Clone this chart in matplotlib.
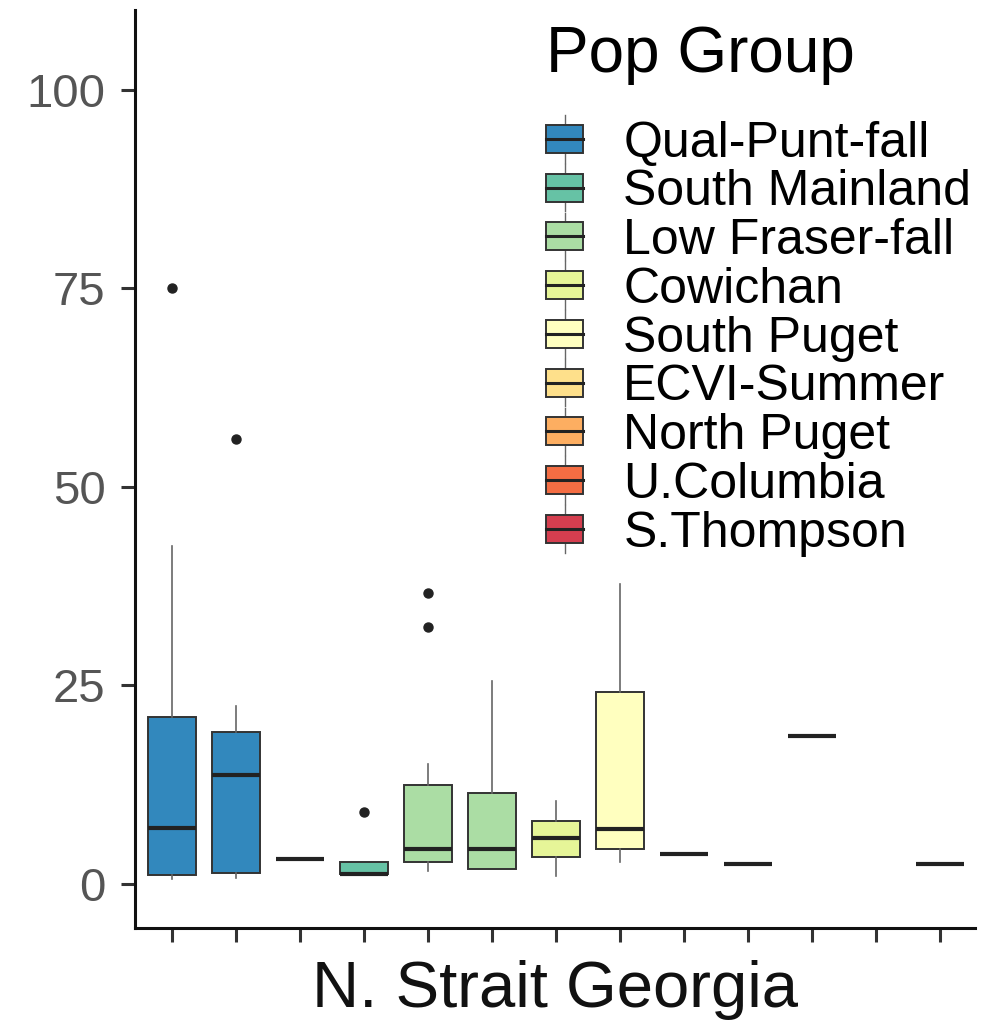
import numpy as np
import matplotlib
matplotlib.use("Agg")
import matplotlib.pyplot as plt
from matplotlib.patches import Patch, Rectangle
from matplotlib.lines import Line2D
from matplotlib.legend_handler import HandlerBase

plt.rcParams['font.family'] = ['Liberation Sans', 'DejaVu Sans']

# Pop groups and their colours
groups = ['Qual-Punt-fall', 'South Mainland', 'Low Fraser-fall', 'Cowichan',
          'South Puget', 'ECVI-Summer', 'North Puget', 'U.Columbia', 'S.Thompson']
colors = ['#3288bd', '#66c2a5', '#abdda4', '#e6f598', '#ffffbf',
          '#fee08b', '#fdae61', '#f46d43', '#d53e4f']

# box statistics per position (None = no box)
box_group = ['Qual-Punt-fall', 'Qual-Punt-fall', 'South Mainland', 'South Mainland',
             'Low Fraser-fall', 'Low Fraser-fall', 'Cowichan', 'South Puget',
             'ECVI-Summer', 'North Puget', 'U.Columbia', None, 'S.Thompson']
whislo = [0.6, 0.8, 3.2, 1.3, 1.6, 1.9, 1.0, 2.8, 3.8, 2.5, 18.7, None, 2.5]
q1     = [1.1, 1.4, 3.2, 1.3, 2.8, 1.9, 3.4, 4.4, 3.8, 2.5, 18.7, None, 2.5]
med    = [7.0, 13.7, 3.2, 1.3, 4.4, 4.4, 5.8, 6.9, 3.8, 2.5, 18.7, None, 2.5]
q3     = [21.0, 19.2, 3.2, 2.8, 12.5, 11.5, 7.9, 24.2, 3.8, 2.5, 18.7, None, 2.5]
whishi = [42.5, 22.4, 3.2, 2.8, 15.1, 25.6, 10.5, 37.8, 3.8, 2.5, 18.7, None, 2.5]
fliers = [[75.0], [56.0], [], [9.1], [36.6, 32.4], [], [], [], [], [], [], [], []]

fig = plt.figure(figsize=(10.06, 10.24), dpi=100)
ax = fig.add_axes([0.134, 0.094, 0.835, 0.896])

for i in range(len(box_group)):
    if box_group[i] is None:
        continue
    st = dict(whislo=whislo[i], q1=q1[i], med=med[i], q3=q3[i], whishi=whishi[i], fliers=fliers[i])
    c = colors[groups.index(box_group[i])]
    ax.bxp([st], positions=[i + 1], widths=0.75, patch_artist=True, showcaps=False,
           boxprops=dict(facecolor=c, edgecolor='#333333', linewidth=1.4),
           medianprops=dict(color='#222222', linewidth=3.0, solid_capstyle='butt'),
           whiskerprops=dict(color='#666666', linewidth=1.2),
           flierprops=dict(marker='o', markerfacecolor='#222222', markeredgecolor='#222222', markersize=6.5))

ax.set_xlim(0.42, 13.55)
ax.set_ylim(-5.5, 110)
ax.set_yticks([0, 25, 50, 75, 100])
ax.set_xticks(range(1, 14))
ax.set_xticklabels([])
ax.spines['top'].set_visible(False)
ax.spines['right'].set_visible(False)
for s in ['left', 'bottom']:
    ax.spines[s].set_linewidth(2.2)
    ax.spines[s].set_color('#111111')
ax.tick_params(axis='both', length=10, width=2.2, color='#333333', labelsize=34,
               labelcolor='#555555', pad=11)
ax.set_xlabel('N. Strait Georgia', fontsize=47, color='#111111', labelpad=2)


class BoxHandler(HandlerBase):
    def create_artists(self, legend, orig_handle, xdescent, ydescent, width, height, fontsize, trans):
        x0, y0 = -xdescent, -ydescent
        cx = x0 + width / 2
        wl = Line2D([cx, cx], [y0 - height * 0.35, y0 + height * 1.35], color='#666666', lw=1.0, transform=trans)
        rect = Rectangle((x0, y0), width, height, facecolor=orig_handle.get_facecolor(),
                         edgecolor='#333333', lw=1.4, transform=trans)
        ml = Line2D([x0, x0 + width], [y0 + height / 2] * 2, color='#222222', lw=2.2, transform=trans)
        return [wl, rect, ml]


handles = [Patch(facecolor=c) for c in colors]
leg = fig.legend(handles, groups, handler_map={Patch: BoxHandler()},
                 loc='upper left', bbox_to_anchor=(0.543, 0.976), frameon=False,
                 title='Pop Group', fontsize=36, title_fontsize=46,
                 handlelength=0.74, handleheight=0.48, handletextpad=0.8,
                 labelspacing=0.055, borderaxespad=0, borderpad=0)
leg._legend_box.align = 'left'
leg._legend_box.sep = 26

fig.savefig('out.png', dpi=100)
